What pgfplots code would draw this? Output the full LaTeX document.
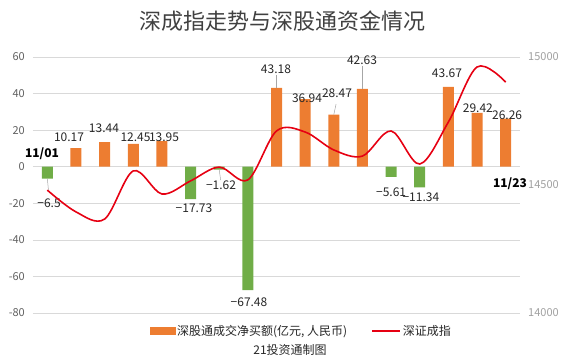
\documentclass[border=0pt]{standalone}
\usepackage{pgfplots}
\pgfplotsset{compat=1.18}
\usepackage{fontspec}
\setmainfont{Noto Sans CJK SC}
\definecolor{barorange}{RGB}{237,125,49}
\definecolor{bargreen}{RGB}{112,173,71}
\definecolor{linered}{RGB}{230,0,18}
\definecolor{gridgray}{RGB}{217,217,217}
\definecolor{tickgray}{RGB}{96,96,96}
\definecolor{rightgray}{RGB}{160,160,160}
\definecolor{labelgray}{RGB}{38,38,38}
\definecolor{titlegray}{RGB}{64,64,64}
\begin{document}
\begin{tikzpicture}
\path[use as bounding box] (-33pt,-49pt) rectangle (531pt,313pt);
\node[text=titlegray, font=\fontsize{22}{26}\selectfont] at (249pt,292pt) {深成指走势与深股通资金情况};
\node[text=labelgray, font=\fontsize{12}{14}\selectfont] at (257pt,-37pt) {21投资通制图};
\begin{axis}[
  at={(0,0)}, anchor=south west,
  scale only axis, width=487pt, height=256pt,
  xmin=-0.5, xmax=16.5, ymin=-80, ymax=60,
  ytick={-80,-60,...,60},
  xtick=\empty,
  axis line style={draw=none},
  tick style={draw=none},
  ymajorgrids, grid style={color=gridgray, line width=0.7pt},
  /pgf/number format/assume math mode=true,
  yticklabel style={font=\fontsize{11}{13}\selectfont, text=tickgray, inner sep=0pt, xshift=-8pt},
  clip=false,
]
\addplot[ybar, bar width=11pt, bar shift=0pt, fill=barorange, draw=none] coordinates {
(1,10.17) (2,13.44) (3,12.45) (4,13.95) (8,43.18) (9,36.94) (10,28.47) (11,42.63) (14,43.67) (15,29.42) (16,26.26)};
\addplot[ybar, bar width=11pt, bar shift=0pt, fill=bargreen, draw=none] coordinates {
(0,-6.5) (5,-17.73) (6,-1.62) (7,-67.48) (12,-5.61) (13,-11.34)};
% leader lines
\draw[gray!70, line width=0.5pt] (axis cs:8,50.1) -- (axis cs:8,43.18);
\draw[gray!70, line width=0.5pt] (axis cs:11,55.1) -- (axis cs:11,42.63);
\draw[gray!70, line width=0.5pt] (axis cs:10.08,34.3) -- (axis cs:10,28.47);
\draw[gray!70, line width=0.5pt] (axis cs:0,-6.5) -- (axis cs:0.04,-12.7);
\draw[gray!70, line width=0.5pt] (axis cs:6,-1.62) -- (axis cs:6.05,-7.3);
\begin{scope}[every node/.style={text=labelgray, font=\fontsize{12}{14}\selectfont, inner sep=0pt}]
\node at (axis cs:0.06,-19.85) {−6.5};
\node at (axis cs:0.757,16.24) {10.17};
\node at (axis cs:1.978,21.16) {13.44};
\node at (axis cs:3.078,16.24) {12.45};
\node at (axis cs:4.073,16.24) {13.95};
\node at (axis cs:5.12,-22.6) {−17.73};
\node at (axis cs:6.063,-10.0) {−1.62};
\node at (axis cs:7.04,-74.0) {−67.48};
\node at (axis cs:7.98,53.4) {43.18};
\node at (axis cs:9.065,37.6) {36.94};
\node at (axis cs:10.112,40.3) {28.47};
\node at (axis cs:10.985,58.4) {42.63};
\node at (axis cs:12.0,-13.8) {−5.61};
\node at (axis cs:13.04,-16.6) {−11.34};
\node at (axis cs:13.95,51.2) {43.67};
\node at (axis cs:15.03,32.1) {29.42};
\node at (axis cs:16.05,28.3) {26.26};
\node[text=black, font=\bfseries\fontsize{12}{14}\selectfont] at (axis cs:-0.186,6.95) {11/01};
\node[text=black, font=\bfseries\fontsize{12}{14}\selectfont] at (axis cs:16.15,-9.46) {11/23};
\end{scope}
\end{axis}
\begin{axis}[
  at={(0,0)}, anchor=south west,
  scale only axis, width=487pt, height=256pt,
  xmin=-0.5, xmax=16.5, ymin=14000, ymax=15000,
  ytick={14000,14500,15000},
  axis y line*=right, axis x line=none,
  axis line style={draw=none},
  tick style={draw=none},
  scaled y ticks=false,
  /pgf/number format/1000 sep={},
  /pgf/number format/assume math mode=true,
  yticklabel style={font=\fontsize{11}{13}\selectfont, text=rightgray, inner sep=0pt, xshift=8pt},
  legend columns=2,
  legend style={draw=none, fill=none, at={(0.551,-0.0703)}, anchor=center,
    font=\fontsize{12}{14}\selectfont, text=labelgray,
    /tikz/every even column/.append style={column sep=22pt}},
  clip=false,
]
\addlegendimage{legend image code/.code={\fill[barorange] (0pt,-3.5pt) rectangle (25pt,3.5pt);}}
\addlegendentry{深股通成交净买额(亿元, 人民币)}
\addplot[smooth, tension=0.55, color=linered, line width=1.6pt,
  legend image code/.code={\draw[linered, line width=1.6pt] (0pt,0pt) -- (28pt,0pt);}] coordinates {
(0,14480) (1,14395) (2,14367) (3,14555) (4,14465) (5,14516) (6,14570) (7,14520)
(8,14711) (9,14707) (10,14637) (11,14613) (12,14711) (13,14582) (14,14746) (15,14961) (16,14902)};
\addlegendentry{深证成指}
\end{axis}
\end{tikzpicture}
\end{document}
